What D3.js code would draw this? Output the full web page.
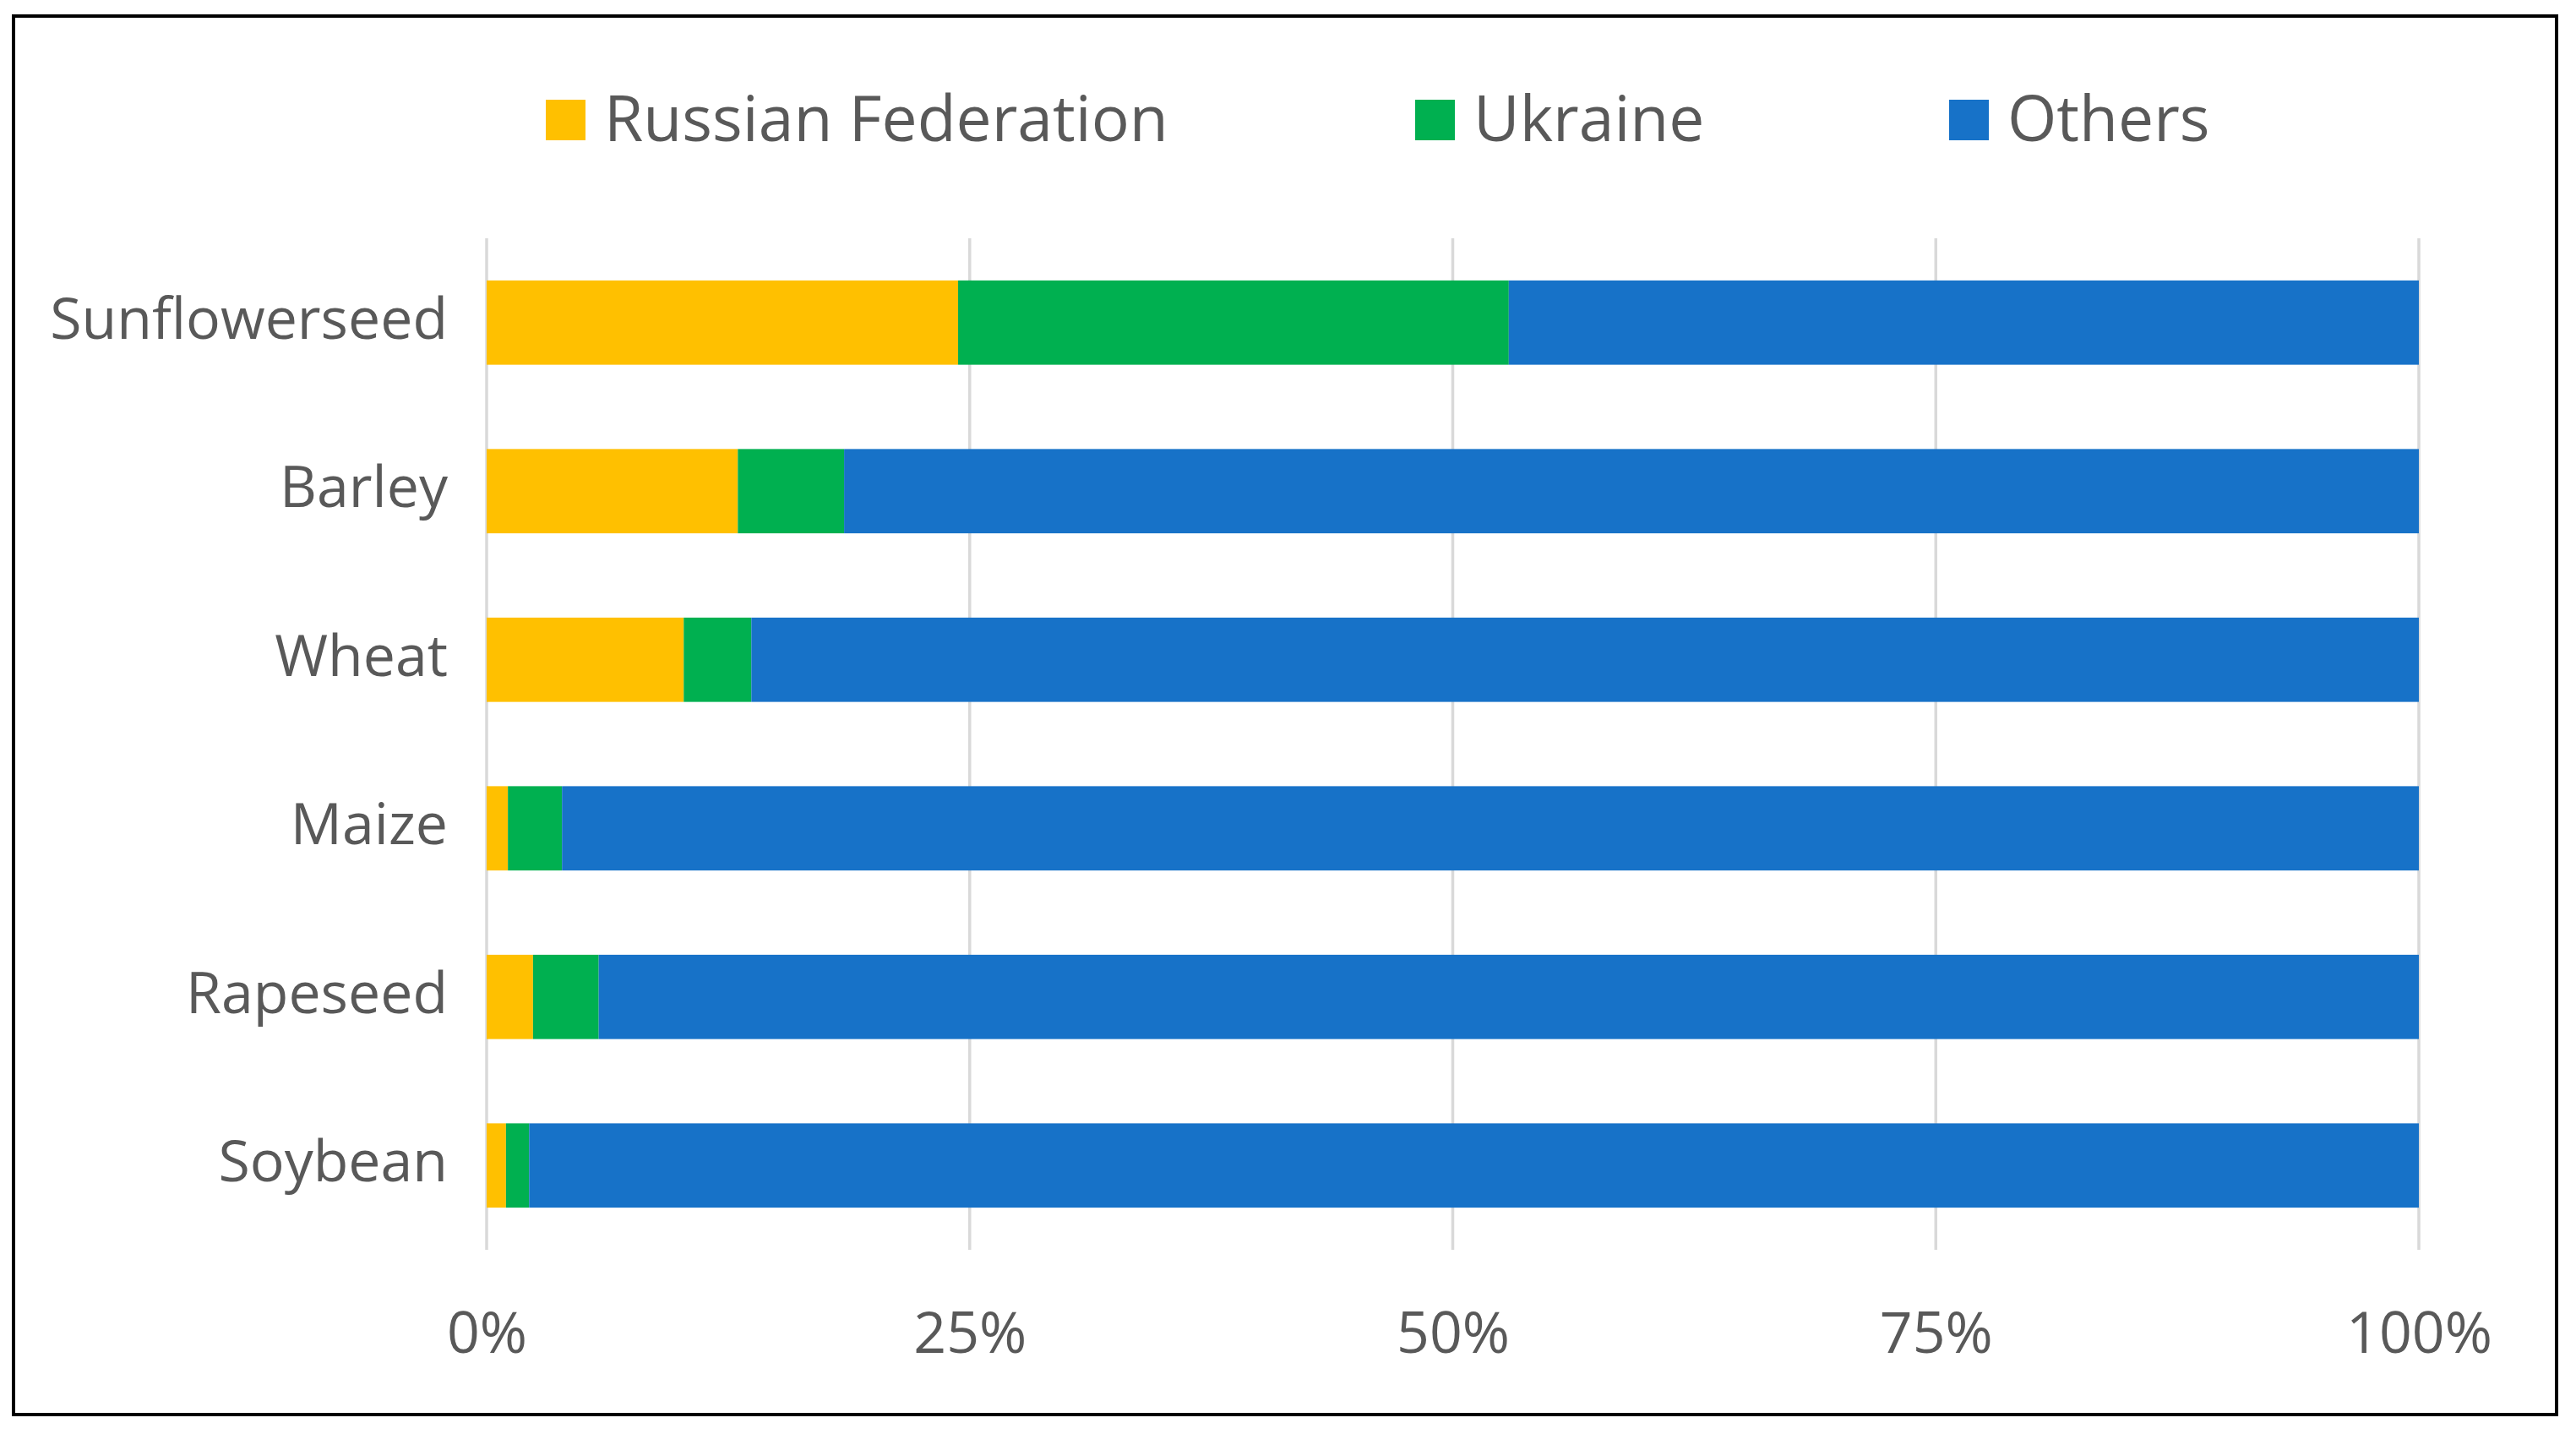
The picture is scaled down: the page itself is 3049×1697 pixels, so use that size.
<!DOCTYPE html>
<html>
<head>
<meta charset="utf-8">
<script src="https://cdn.jsdelivr.net/npm/d3@7"></script>
<style>
  body { margin: 0; background: #fff; }
  text { font-family: 'Open Sans', sans-serif; fill: #595959; }
</style>
</head>
<body>
<div id="chart"></div>
<script>
const crops = ['Sunflowerseed', 'Barley', 'Wheat', 'Maize', 'Rapeseed', 'Soybean']
const seriesNames = ['Russian Federation', 'Ukraine', 'Others']
const russia = [24.4, 13.0, 10.2, 1.1, 2.4, 1.0]
const ukraine = [28.5, 5.5, 3.5, 2.8, 3.4, 1.2]
const others = [47.1, 81.5, 86.3, 96.1, 94.2, 97.8]
const tickValues = [0, 25, 50, 75, 100]
const tickLabels = ['0%', '25%', '50%', '75%', '100%']
const colors = ['#FFC000', '#00B050', '#1772C8']

const W = 3049
const H = 1697

const svg = d3
  .select('#chart')
  .append('svg')
  .attr('width', W)
  .attr('height', H)

// outer frame
svg
  .append('rect')
  .attr('x', 16)
  .attr('y', 19)
  .attr('width', 3010)
  .attr('height', 1655)
  .attr('fill', 'none')
  .attr('stroke', '#000')
  .attr('stroke-width', 4)

const xPositionScale = d3
  .scaleLinear()
  .domain([0, 100])
  .range([576, 2863])

const yPositionScale = d3
  .scaleBand()
  .domain(crops)
  .range([282, 1479])
  .paddingInner(0.5)
  .paddingOuter(0.25)

const rows = crops.map((c, i) => ({
  crop: c,
  'Russian Federation': russia[i],
  Ukraine: ukraine[i],
  Others: others[i]
}))

const stacked = d3.stack().keys(seriesNames)(rows)

// gridlines
svg
  .append('g')
  .selectAll('line')
  .data(tickValues)
  .enter()
  .append('line')
  .attr('x1', d => xPositionScale(d))
  .attr('x2', d => xPositionScale(d))
  .attr('y1', 282)
  .attr('y2', 1479)
  .attr('stroke', '#d9d9d9')
  .attr('stroke-width', 3.5)

// bars
svg
  .append('g')
  .selectAll('g')
  .data(stacked)
  .enter()
  .append('g')
  .attr('fill', (d, i) => colors[i])
  .selectAll('rect')
  .data(d => d)
  .enter()
  .append('rect')
  .attr('x', d => xPositionScale(d[0]))
  .attr('width', d => xPositionScale(d[1]) - xPositionScale(d[0]))
  .attr('y', d => yPositionScale(d.data.crop))
  .attr('height', yPositionScale.bandwidth())

// y labels
const yAxis = d3.axisLeft(yPositionScale).tickSize(0).tickPadding(46)
const yG = svg
  .append('g')
  .attr('transform', 'translate(' + xPositionScale(0) + ',0)')
  .call(yAxis)
yG.select('.domain').remove()
yG.selectAll('text')
  .attr('font-size', 68)
  .style('font-family', "'Open Sans', sans-serif")
  .attr('fill', '#595959')
  .attr('dy', '0.28em')

// x labels
const xAxis = d3
  .axisBottom(xPositionScale)
  .tickValues(tickValues)
  .tickFormat((d, i) => tickLabels[i])
  .tickSize(0)
  .tickPadding(0)
const xG = svg
  .append('g')
  .attr('transform', 'translate(0,1553)')
  .call(xAxis)
xG.select('.domain').remove()
xG.selectAll('text')
  .attr('font-size', 68)
  .style('font-family', "'Open Sans', sans-serif")
  .attr('fill', '#595959')
  .attr('dy', '0.71em')

// legend
const legendX = [646, 1675, 2307]
const legend = svg
  .append('g')
  .selectAll('g')
  .data(seriesNames)
  .enter()
  .append('g')
  .attr('transform', (d, i) => 'translate(' + legendX[i] + ',118)')

legend
  .append('rect')
  .attr('width', 47)
  .attr('height', 48)
  .attr('fill', (d, i) => colors[i])

legend
  .append('text')
  .attr('x', 69)
  .attr('y', 24)
  .attr('dy', '0.33em')
  .attr('font-size', 75)
  .text(d => d)
</script>
</body>
</html>
